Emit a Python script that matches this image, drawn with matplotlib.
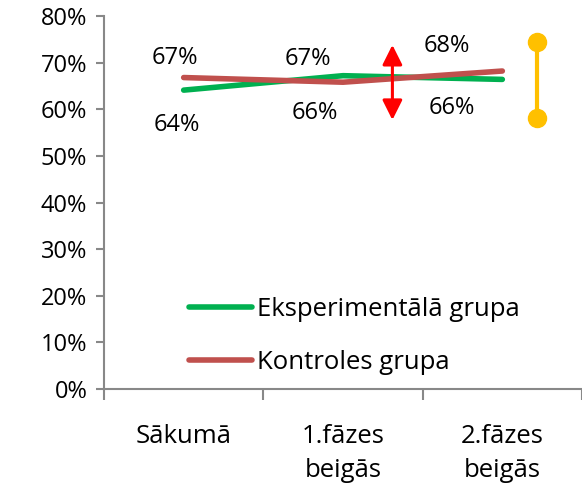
import matplotlib
matplotlib.use("Agg")
import matplotlib.pyplot as plt
from matplotlib.ticker import FuncFormatter, FixedLocator

categories = ["Sākumā", "1.fāzes\nbeigās", "2.fāzes\nbeigās"]
exp_values = [0.641, 0.672, 0.664]
ctrl_values = [0.668, 0.658, 0.682]
series_names = ["Eksperimentālā grupa", "Kontroles grupa"]
arrow_span = (1.31, 0.577, 0.738)      # x, y_low, y_high
range_span = (2.22, 0.581, 0.744)      # x, y_low, y_high
y_ticks = [0, 0.1, 0.2, 0.3, 0.4, 0.5, 0.6, 0.7, 0.8]

plt.rcParams['font.family'] = ['Open Sans', 'DejaVu Sans']
FS_NUM = 17
FS_TXT = 18.5

fig = plt.figure(figsize=(5.82, 4.83), dpi=100)
ax = fig.add_axes([104/582, 1-389/483, 1-104/582, (389-16)/483])

x = list(range(len(categories)))
green = "#00B050"
red = "#C0504D"
l1, = ax.plot(x, exp_values, color=green, lw=4, solid_capstyle='round', zorder=3)
l2, = ax.plot(x, ctrl_values, color=red, lw=4, solid_capstyle='round', zorder=4)

exp_off = [(-7, -35), (-35, 17), (-51, -29)]
ctrl_off = [(-9, 20), (-28, -31), (-56, 25)]
for xi, v, off in zip(x, exp_values, exp_off):
    ax.annotate(f"{v*100:.0f}%", (xi, v), xytext=off, textcoords='offset pixels',
                ha='center', va='center', fontsize=FS_NUM)
for xi, v, off in zip(x, ctrl_values, ctrl_off):
    ax.annotate(f"{v*100:.0f}%", (xi, v), xytext=off, textcoords='offset pixels',
                ha='center', va='center', fontsize=FS_NUM)

ax.annotate("", xy=(arrow_span[0], arrow_span[2]), xytext=(arrow_span[0], arrow_span[1]),
            arrowprops=dict(arrowstyle='<|-|>', color='#FF0000', lw=2.2,
                            mutation_scale=30, shrinkA=0, shrinkB=0), zorder=5)
ax.plot([range_span[0], range_span[0]], [range_span[1], range_span[2]], color="#FFC000",
        lw=3, marker='o', markersize=13, zorder=5, clip_on=False)

ax.set_xlim(-0.5, 2.5)
ax.set_ylim(0, 0.8)
ax.yaxis.set_major_locator(FixedLocator(y_ticks))
ax.yaxis.set_major_formatter(FuncFormatter(lambda v, p: f"{v*100:.0f}%"))
ax.set_xticks(x)
ax.set_xticklabels(categories)
ax.xaxis.set_minor_locator(FixedLocator([-0.5, 0.5, 1.5, 2.5]))
ax.tick_params(axis='x', which='major', length=0, pad=25, labelsize=FS_TXT)
ax.tick_params(axis='x', which='minor', length=8, width=1.5, color='#888888')
ax.tick_params(axis='y', length=6, width=1.5, color='#888888', labelsize=FS_NUM, pad=6)
for s in ['top', 'right']:
    ax.spines[s].set_visible(False)
for s in ['left', 'bottom']:
    ax.spines[s].set_color('#888888')
    ax.spines[s].set_linewidth(1.5)
for t in ax.get_xticklabels():
    t.set_linespacing(1.5)

ax.legend([l1, l2], series_names, loc='upper left', bbox_to_anchor=(176/582, 1-284/483),
          bbox_transform=fig.transFigure, frameon=False, fontsize=FS_TXT,
          handlelength=2.45, handletextpad=0.2, labelspacing=1.1, borderpad=0)

fig.savefig("out.png", dpi=100)
